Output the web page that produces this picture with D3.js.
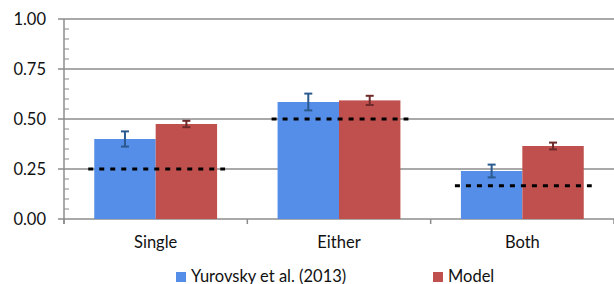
<!DOCTYPE html>
<html>
<head>
<meta charset="utf-8">
<script src="https://cdn.jsdelivr.net/npm/d3@7"></script>
<style>
  html, body { margin: 0; padding: 0; background: #fff; }
  svg { display: block; font-family: Lato, 'DejaVu Sans', sans-serif; }
</style>
</head>
<body>
<div id="chart"></div>
<script>
const categories = ['Single', 'Either', 'Both']
const seriesNames = ['Yurovsky et al. (2013)', 'Model']
const yurovsky = [0.40, 0.585, 0.24]
const yurovskyErr = [0.038, 0.042, 0.032]
const model = [0.475, 0.593, 0.365]
const modelErr = [0.016, 0.023, 0.017]
const chance = [0.25, 0.5, 1 / 6]
const yTicks = [0, 0.25, 0.5, 0.75, 1]

const width = 614
const height = 284
const margin = { top: 19, right: 0, bottom: 65, left: 64 }
const innerWidth = width - margin.left - margin.right
const innerHeight = height - margin.top - margin.bottom
const fontSize = 16.5
const textColor = '#111'

const colors = ['#558ee8', '#c0504d']
const errColors = ['#2b5a8e', '#6e2a2a']
const gridColor = '#8c8c8c'

const svg = d3.select('#chart')
  .append('svg')
  .attr('width', width)
  .attr('height', height)

const x = d3.scaleBand().domain(categories).range([0, innerWidth]).paddingInner(0).paddingOuter(0)
const xSub = d3.scaleBand().domain(seriesNames).range([x.bandwidth() * 0.165, x.bandwidth() * 0.835])
const y = d3.scaleLinear().domain([0, 1]).range([innerHeight, 0])

const chart = svg.append('g').attr('transform', `translate(${margin.left},${margin.top})`)

// gridlines with outward major ticks
chart.append('g')
  .selectAll('line')
  .data(yTicks)
  .join('line')
  .attr('x1', -6)
  .attr('x2', innerWidth)
  .attr('y1', d => y(d))
  .attr('y2', d => y(d))
  .attr('stroke', gridColor)
  .attr('stroke-width', 1.5)

// minor ticks
chart.append('g')
  .selectAll('line')
  .data(d3.range(0.05, 1, 0.05).filter(v => Math.abs(v * 4 - Math.round(v * 4)) > 1e-6))
  .join('line')
  .attr('x1', 0)
  .attr('x2', 5)
  .attr('y1', d => y(d))
  .attr('y2', d => y(d))
  .attr('stroke', gridColor)
  .attr('stroke-width', 1)

chart.selectAll('.ylabel')
  .data(yTicks)
  .join('text')
  .attr('x', -18)
  .attr('y', d => y(d))
  .attr('dy', '0.36em')
  .attr('text-anchor', 'end')
  .attr('font-size', fontSize)
  .attr('fill', textColor)
  .text(d => d3.format('.2f')(d))

// category boundary ticks
chart.append('g')
  .selectAll('line')
  .data(d3.range(categories.length + 1))
  .join('line')
  .attr('x1', i => i * x.bandwidth())
  .attr('x2', i => i * x.bandwidth())
  .attr('y1', innerHeight)
  .attr('y2', innerHeight + 5)
  .attr('stroke', gridColor)
  .attr('stroke-width', 1.5)

// bars
const seriesVals = [yurovsky, model]
const seriesErr = [yurovskyErr, modelErr]
seriesNames.forEach((name, s) => {
  chart.append('g')
    .selectAll('rect')
    .data(categories)
    .join('rect')
    .attr('x', (c) => x(c) + xSub(name))
    .attr('width', xSub.bandwidth())
    .attr('y', (c, i) => y(seriesVals[s][i]))
    .attr('height', (c, i) => innerHeight - y(seriesVals[s][i]))
    .attr('fill', colors[s])
})

// error bars
seriesNames.forEach((name, s) => {
  const g = chart.append('g').attr('stroke', errColors[s]).attr('stroke-width', 2)
  categories.forEach((c, i) => {
    const cx = x(c) + xSub(name) + xSub.bandwidth() / 2
    const v = seriesVals[s][i]
    const e = seriesErr[s][i]
    g.append('line').attr('x1', cx).attr('x2', cx).attr('y1', y(v + e)).attr('y2', y(v - e))
    g.append('line').attr('x1', cx - 4).attr('x2', cx + 4).attr('y1', y(v + e)).attr('y2', y(v + e))
    g.append('line').attr('x1', cx - 4).attr('x2', cx + 4).attr('y1', y(v - e)).attr('y2', y(v - e))
  })
})

// chance lines
chart.append('g')
  .selectAll('line')
  .data(categories)
  .join('line')
  .attr('x1', c => x(c) + xSub(seriesNames[0]) - 6)
  .attr('x2', c => x(c) + xSub(seriesNames[1]) + xSub.bandwidth() + 8)
  .attr('y1', (c, i) => y(chance[i]))
  .attr('y2', (c, i) => y(chance[i]))
  .attr('stroke', '#000')
  .attr('stroke-width', 3)
  .attr('stroke-dasharray', '5 6')

// y axis line
chart.append('line')
  .attr('x1', 0)
  .attr('x2', 0)
  .attr('y1', 0)
  .attr('y2', innerHeight + 5)
  .attr('stroke', gridColor)
  .attr('stroke-width', 1.5)

// x labels
chart.selectAll('.xlabel')
  .data(categories)
  .join('text')
  .attr('x', c => x(c) + x.bandwidth() / 2)
  .attr('y', innerHeight + 29)
  .attr('text-anchor', 'middle')
  .attr('font-size', fontSize)
  .attr('fill', textColor)
  .text(c => c)

// legend
const legendX = [176, 433]
const legend = svg.append('g')
seriesNames.forEach((name, s) => {
  legend.append('rect')
    .attr('x', legendX[s])
    .attr('y', 272)
    .attr('width', 10)
    .attr('height', 10)
    .attr('fill', colors[s])
  legend.append('text')
    .attr('x', legendX[s] + 15)
    .attr('y', 282)
    .attr('font-size', fontSize)
    .attr('fill', textColor)
    .text(name)
})
</script>
</body>
</html>
